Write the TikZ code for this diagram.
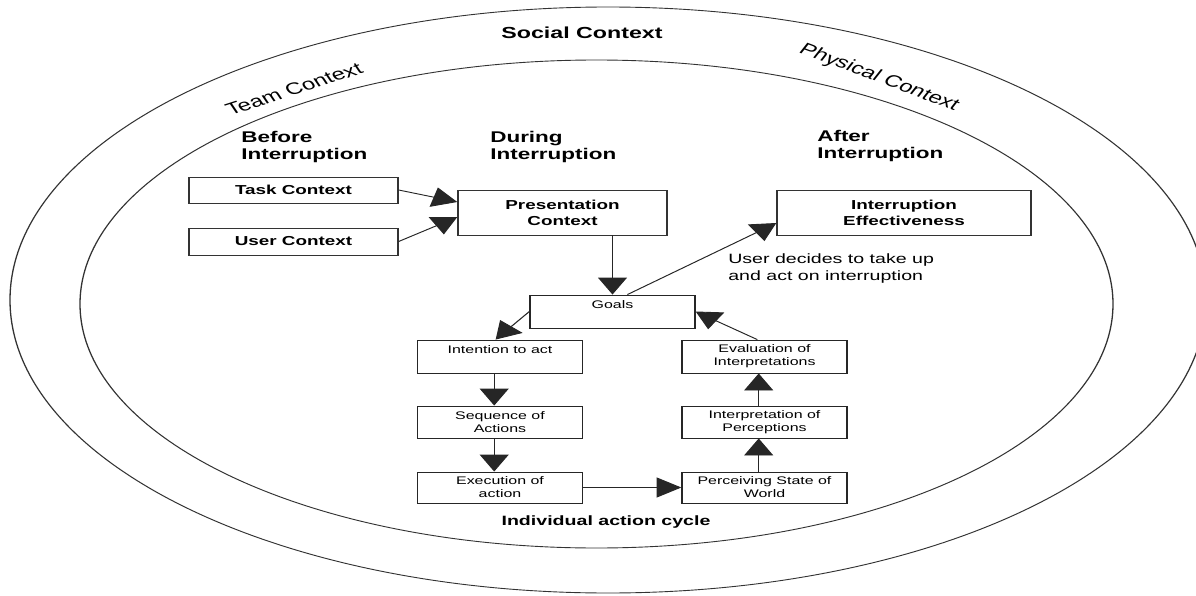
\documentclass[tikz,border=0pt]{standalone}
\usepackage{fontspec}
\setmainfont{Liberation Sans}
\usetikzlibrary{arrows.meta}
\begin{document}
\begin{tikzpicture}[x=1pt,y=-1pt,
  ring/.style={draw=black!80,line width=0.9pt},
  bigbox/.style={draw=black!80,line width=0.9pt,rectangle,inner sep=0pt,align=center,font=\fontsize{13}{16}\selectfont\bfseries},
  smallbox/.style={draw=black!85,line width=0.9pt,rectangle,inner sep=0pt,align=center,minimum width=113.79pt,font=\fontsize{11}{13}\selectfont},
  arr/.style={draw=black!85,line width=0.9pt,-{Triangle[length=17pt,width=20pt]}},
  hdr/.style={anchor=west,inner sep=0pt,align=left,font=\fontsize{15.5}{17}\selectfont\bfseries},
  ctx/.style={inner sep=0pt,font=\fontsize{16.5}{19}\selectfont}
]
\useasboundingbox (0,0) rectangle (1196,596);
\begin{scope}[transform canvas={xscale=1.45},x=0.689655pt]
  % context rings
  \draw[ring] (608,300) ellipse [x radius=412.41pt, y radius=293pt];
  \draw[ring] (596.5,304) ellipse [x radius=356.2pt, y radius=244pt];
  \node[ctx,font=\fontsize{16}{19}\selectfont\bfseries] (social) at (582,33) {Social Context};
  \node[ctx,rotate=25] (team) at (294,89) {Team Context};
  \node[ctx,rotate=-28.5] (physical) at (879,78) {Physical Context};

  % headers
  \node[hdr] (before) at (241,146.5) {Before\\Interruption};
  \node[hdr] (during) at (490,146.5) {During\\Interruption};
  \node[hdr] (after) at (817,145.5) {After\\Interruption};

  % big boxes
  \node[bigbox,minimum width=144.14pt,minimum height=26pt] (task) at (293.5,190) {Task Context};
  \node[bigbox,minimum width=144.14pt,minimum height=27pt] (user) at (293.5,241.5) {User Context};
  \node[bigbox,minimum width=144.14pt,minimum height=45pt] (pres) at (562.5,212.5) {Presentation\\Context};
  \node[bigbox,minimum width=175.17pt,minimum height=45pt] (ie) at (904,212.5) {Interruption\\Effectiveness};

  % cycle boxes
  \node[smallbox,minimum height=33pt] (goals) at (612.5,311.5) {Goals\\\mbox{}};
  \node[smallbox,minimum height=33pt] (intent) at (500,356.5) {Intention to act\\\mbox{}};
  \node[smallbox,minimum height=32pt] (seq) at (500,422) {Sequence of\\Actions};
  \node[smallbox,minimum height=31pt] (exec) at (500,487.5) {Execution of\\action};
  \node[smallbox,minimum height=33pt] (eval) at (764.5,356.5) {Evaluation of\\Interpretations};
  \node[smallbox,minimum height=32pt] (interp) at (764.5,422) {Interpretation of\\Perceptions};
  \node[smallbox,minimum height=31pt] (perc) at (764.5,487.5) {Perceiving State of\\World};

  % labels
  \node[anchor=west,inner sep=0pt,align=left,font=\fontsize{13.5}{17}\selectfont] (decide) at (728,268.5) {User decides to take up\\and act on interruption};
  \node[inner sep=0pt,font=\fontsize{13.5}{16}\selectfont\bfseries] (cycle) at (606,522) {Individual action cycle};

  % connectors
  \draw[arr] (task.east) -- ([yshift=10.5pt]pres.west);
  \draw[arr] (user.east) -- ([yshift=-4.5pt]pres.west);
  \draw[arr] (pres.south -| goals.north) -- (goals.north);
  \draw[arr] ([xshift=10.3pt]goals.north) -- ([yshift=-10.5pt]ie.west);
  \draw[arr] (goals.west) -- ([xshift=-3pt]intent.north);
  \draw[arr] ([xshift=-4pt]intent.south) -- ([xshift=-4pt]seq.north);
  \draw[arr] ([xshift=-4pt]seq.south) -- ([xshift=-4pt]exec.north);
  \draw[arr] (exec.east) -- (perc.west);
  \draw[arr] ([xshift=-4pt]perc.north) -- ([xshift=-4pt]interp.south);
  \draw[arr] ([xshift=-4pt]interp.north) -- ([xshift=-4pt]eval.south);
  \draw[arr] ([xshift=-5pt]eval.north) -- (goals.east);
\end{scope}
\end{tikzpicture}
\end{document}
